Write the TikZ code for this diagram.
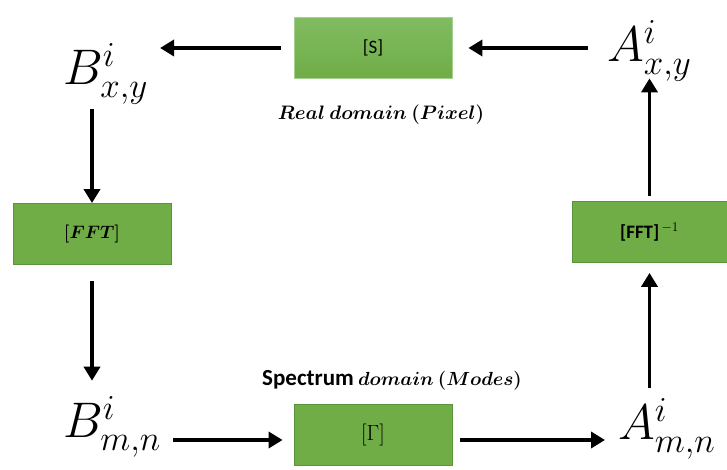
\documentclass[tikz,border=0pt]{standalone}
\usepackage{fix-cm}
\usepackage{fontspec}
\setmainfont{Carlito}
\usetikzlibrary{arrows.meta,calc}
\definecolor{boxgreen}{HTML}{70AD47}
\definecolor{boxtop}{HTML}{80BC60}
\definecolor{boxedge}{HTML}{5A9438}
\tikzset{
  opbox/.style={draw=boxedge, line width=0.8pt, fill=boxgreen, minimum width=158pt,
    minimum height=61pt, inner sep=0pt, font=\fontsize{19}{22}\selectfont},
  boldbox/.style={opbox, font=\fontsize{18}{21}\selectfont\mathversion{bold}},
  symb/.style={inner sep=0pt, anchor=base west, font=\fontsize{50}{56}\selectfont},
  domaincap/.style={inner sep=0pt, font=\fontsize{19.5}{22}\selectfont\bfseries\mathversion{bold}},
  flow/.style={line width=3.8pt, -{Triangle[length=14pt,width=16pt]}}
}
\begin{document}
\begin{tikzpicture}[x=1pt,y=1pt]
\useasboundingbox (0,0) rectangle (727,470);
% operator boxes
\node[opbox, top color=boxtop, bottom color=boxgreen, draw=boxtop!70!white] (S) at (373,422) {[S]};
\node[boldbox] (F) at (92,236) {$[FFT]$};
\node[opbox, minimum width=155pt] (Fi) at (649.5,238) {\textbf{[FFT]}$^{\,-1}$};
\node[opbox, font=\fontsize{22}{24}\selectfont] (G) at (373,35) {$[\Gamma]$};
% field symbols
\node[symb] (Bxy) at (63,385) {$B^{i}_{x,y}$};
\node[symb] (Axy) at (607,408) {$A^{i}_{x,y}$};
\node[symb] (Bmn) at (63,32) {$B^{i}_{m,n}$};
\node[symb] (Amn) at (618,30) {$A^{i}_{m,n}$};
% domain captions
\node[domaincap] (real) at (381,355) {$Real\ domain\ (Pixel)$};
\node[domaincap, font=\fontsize{19}{22}\selectfont\bfseries\mathversion{bold}] (spec) at (392,90)
  {{\fontsize{23}{26}\selectfont Spectrum} $domain\ (Modes)$};
% flow arrows
\draw[flow, shorten <=19pt, shorten >=16pt] (Axy.west |- S.east) -- (S.east);
\draw[flow, shorten <=13pt, shorten >=12pt] (S.west) -- (S.west -| Bxy.east);
\draw[flow, shorten <=5pt] (Bxy.south -| F.north) -- (F.north);
\draw[flow, shorten <=16pt, shorten >=16pt] (F.south) -- (F.south |- Bmn.north);
\draw[flow, shorten <=12pt, shorten >=11pt] ($(Bmn.east |- G.west)+(0,-5)$) -- ($(G.west)+(0,-5)$);
\draw[flow, shorten <=8pt, shorten >=13pt] ($(G.east)+(0,-5)$) -- ($(G.east -| Amn.west)+(0,-5)$);
\draw[flow, shorten <=11pt, shorten >=10pt] (Amn.north -| Fi.south) -- (Fi.south);
\draw[flow, shorten <=5pt, shorten >=-3pt] (Fi.north) -- (Fi.north |- Axy.south);
\end{tikzpicture}
\end{document}
